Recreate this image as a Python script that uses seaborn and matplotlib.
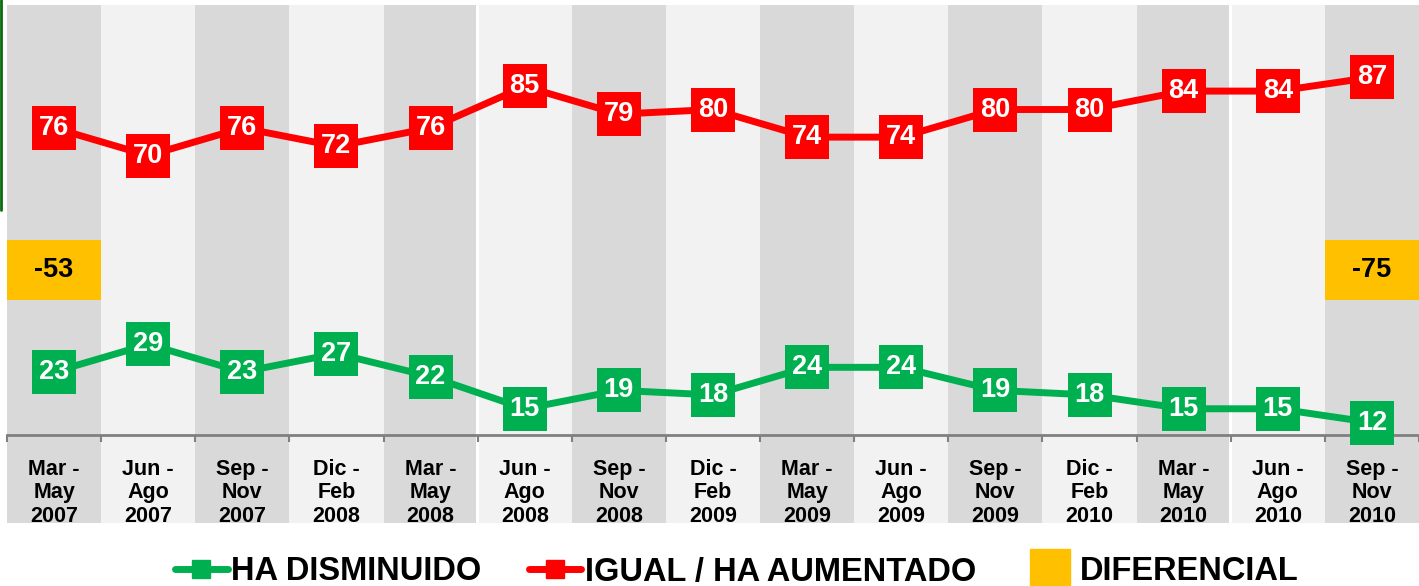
import pandas as pd
import matplotlib.pyplot as plt
import seaborn as sns
from matplotlib.lines import Line2D

periodos = ["Mar -\nMay\n2007", "Jun -\nAgo\n2007", "Sep -\nNov\n2007", "Dic -\nFeb\n2008",
            "Mar -\nMay\n2008", "Jun -\nAgo\n2008", "Sep -\nNov\n2008", "Dic -\nFeb\n2009",
            "Mar -\nMay\n2009", "Jun -\nAgo\n2009", "Sep -\nNov\n2009", "Dic -\nFeb\n2010",
            "Mar -\nMay\n2010", "Jun -\nAgo\n2010", "Sep -\nNov\n2010"]
ha_disminuido = [23, 29, 23, 27, 22, 15, 19, 18, 24, 24, 19, 18, 15, 15, 12]
igual_aumentado = [76, 70, 76, 72, 76, 85, 79, 80, 74, 74, 80, 80, 84, 84, 87]
diferencial_pos = [0, 14]
diferencial = [-53, -75]

VERDE = "#00b050"
ROJO = "#ff0000"
AMARILLO = "#ffc000"

sns.set_style("white")
plt.rcParams['font.family'] = ['Liberation Sans', 'DejaVu Sans']

df = pd.DataFrame({
    "x": list(range(len(periodos))) * 2,
    "valor": ha_disminuido + igual_aumentado,
    "serie": ["HA DISMINUIDO"] * len(periodos) + ["IGUAL / HA AUMENTADO"] * len(periodos),
})

fig = plt.figure(figsize=(14.19, 5.86), dpi=100)
ax = fig.add_axes([7 / 1419, (586 - 435) / 586, 1412 / 1419, 430 / 586])
ax.set_xlim(-0.5, len(periodos) - 0.5)
ax.set_ylim(9.3, 102.7)

# bandas alternas, tambien bajo el eje
for i in range(len(periodos)):
    ax.axvspan(i - 0.5, i + 0.5, ymin=-88 / 430, ymax=1,
               color="#d9d9d9" if i % 2 == 0 else "#f2f2f2",
               lw=0, clip_on=False, zorder=0)
for b in [4.5, 12.5]:
    ax.axvspan(b - 0.015, b + 0.015, ymin=-88 / 430, ymax=1, color="white",
               lw=0, clip_on=False, zorder=0.5)

# diferencial
ax.bar(diferencial_pos, [13] * len(diferencial_pos), bottom=38.6, width=1.0,
       color=AMARILLO, linewidth=0, zorder=2)
for p, d in zip(diferencial_pos, diferencial):
    ax.text(p, 45.1, str(d), ha="center", va="center", fontsize=19.5,
            fontweight="bold", color="black", zorder=3)

sns.lineplot(data=df, x="x", y="valor", hue="serie",
             palette={"HA DISMINUIDO": VERDE, "IGUAL / HA AUMENTADO": ROJO},
             marker="s", markersize=31, markeredgewidth=0, linewidth=5,
             legend=False, ax=ax, zorder=4, clip_on=False)

for serie in [ha_disminuido, igual_aumentado]:
    for i, v in enumerate(serie):
        ax.text(i, v, str(v), ha="center", va="center", color="white",
                fontsize=19.5, fontweight="bold", zorder=5, clip_on=False)

for s in ["top", "left", "right"]:
    ax.spines[s].set_visible(False)
ax.spines["bottom"].set_color("#808080")
ax.spines["bottom"].set_linewidth(2)
ax.set_yticks([])
ax.set_xticks(range(len(periodos)))
ax.set_xticklabels(periodos, fontsize=15.5, fontweight="bold", linespacing=1.16,
                   color="black")
ax.set_xticks([i + 0.5 for i in range(-1, len(periodos))], minor=True)
ax.tick_params(axis="x", which="major", length=0, pad=17)
ax.tick_params(axis="x", which="minor", length=5, width=1.5, color="#808080",
               direction="out", bottom=True)
ax.set_xlabel("")
ax.set_ylabel("")

fig.add_artist(Line2D([0.001, 0.001], [1, 1 - 210 / 586], color="#0b6b0b", lw=2))

handles = [
    Line2D([], [], color=VERDE, lw=5, marker="s", markersize=13),
    Line2D([], [], color=ROJO, lw=5, marker="s", markersize=13),
    Line2D([], [], color=AMARILLO, lw=0, marker="s", markersize=29),
]
leg = fig.legend(handles, ["HA DISMINUIDO", "IGUAL / HA AUMENTADO", "DIFERENCIAL"],
                 loc="center", bbox_to_anchor=(737 / 1419, 1 - 572 / 586), ncol=3,
                 frameon=False, handlelength=1.6, handletextpad=0.12,
                 columnspacing=1.45, prop={"size": 23.5, "weight": "bold"})
for t in leg.get_texts():
    t.set_color("black")

fig.savefig("out.png", dpi=100)
